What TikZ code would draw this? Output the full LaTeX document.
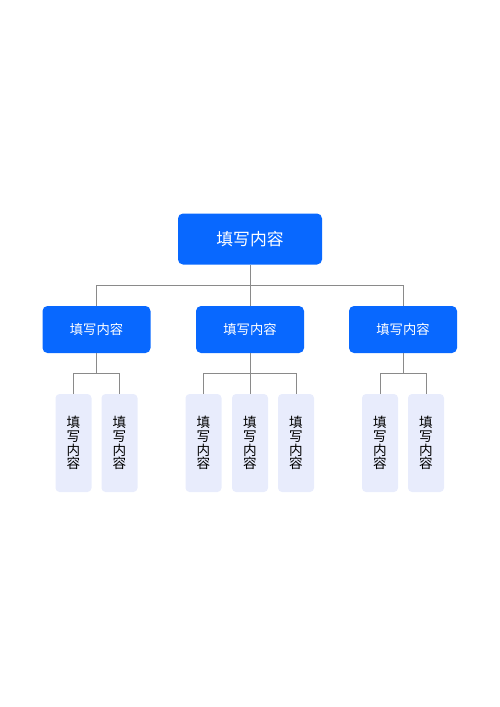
\documentclass[tikz,border=0pt]{standalone}
\usepackage{fontspec}
\setmainfont{Noto Sans CJK SC}
\usetikzlibrary{positioning}
\definecolor{topblue}{HTML}{0868FF}
\definecolor{leaffill}{HTML}{E8ECFC}
\definecolor{linegray}{HTML}{8A8A8A}

\begin{document}
\begin{tikzpicture}[x=1pt, y=-1pt,
		root/.style={rectangle, rounded corners=5pt, fill=topblue, text=white, minimum width=144pt, minimum height=51pt, font=\fontsize{16.8}{18}\selectfont},
		branch/.style={rectangle, rounded corners=5pt, fill=topblue, text=white, minimum width=108pt, minimum height=47pt, font=\fontsize{13.3}{15}\selectfont},
		leaf/.style={rectangle, rounded corners=4pt, fill=leaffill, text=black, minimum width=36pt, minimum height=98pt, align=center, font=\fontsize{13.6}{13.8}\selectfont},
		link/.style={draw=linegray, line width=0.8pt}
		]
	\useasboundingbox (0,0) rectangle (500,707);

		% --- Racine ---
		\node[root] (R) at (250, 239) {填写内容};

		% --- Deuxième niveau ---
		\node[branch] (B1) at (96.5, 329.5) {填写内容};
		\node[branch] (B2) at (250, 329.5) {填写内容};
		\node[branch] (B3) at (403, 329.5) {填写内容};

		% --- Feuilles ---
		\node[leaf] (L1) at (73.5, 443) {填\\写\\内\\容};
		\node[leaf] (L2) at (119.5, 443) {填\\写\\内\\容};
		\node[leaf] (L3) at (203.5, 443) {填\\写\\内\\容};
		\node[leaf] (L4) at (250, 443) {填\\写\\内\\容};
		\node[leaf] (L5) at (296, 443) {填\\写\\内\\容};
		\node[leaf] (L6) at (380, 443) {填\\写\\内\\容};
		\node[leaf] (L7) at (426, 443) {填\\写\\内\\容};

		% Liaisons racine
		\draw[link] (R.south) -- ++(0,21) coordinate (J0);
		\draw[link] (B1.north) |- (J0) -| (B3.north);
		\draw[link] (J0) -- (B2.north);

		% Liaisons feuilles
		\draw[link] (B1.south) -- ++(0,20) coordinate (J1);
		\draw[link] (L1.north) |- (J1) -| (L2.north);
		\draw[link] (B2.south) -- ++(0,20) coordinate (J2);
		\draw[link] (L3.north) |- (J2) -| (L5.north);
		\draw[link] (J2) -- (L4.north);
		\draw[link] (B3.south) -- ++(0,20) coordinate (J3);
		\draw[link] (L6.north) |- (J3) -| (L7.north);

	\end{tikzpicture}
\end{document}
